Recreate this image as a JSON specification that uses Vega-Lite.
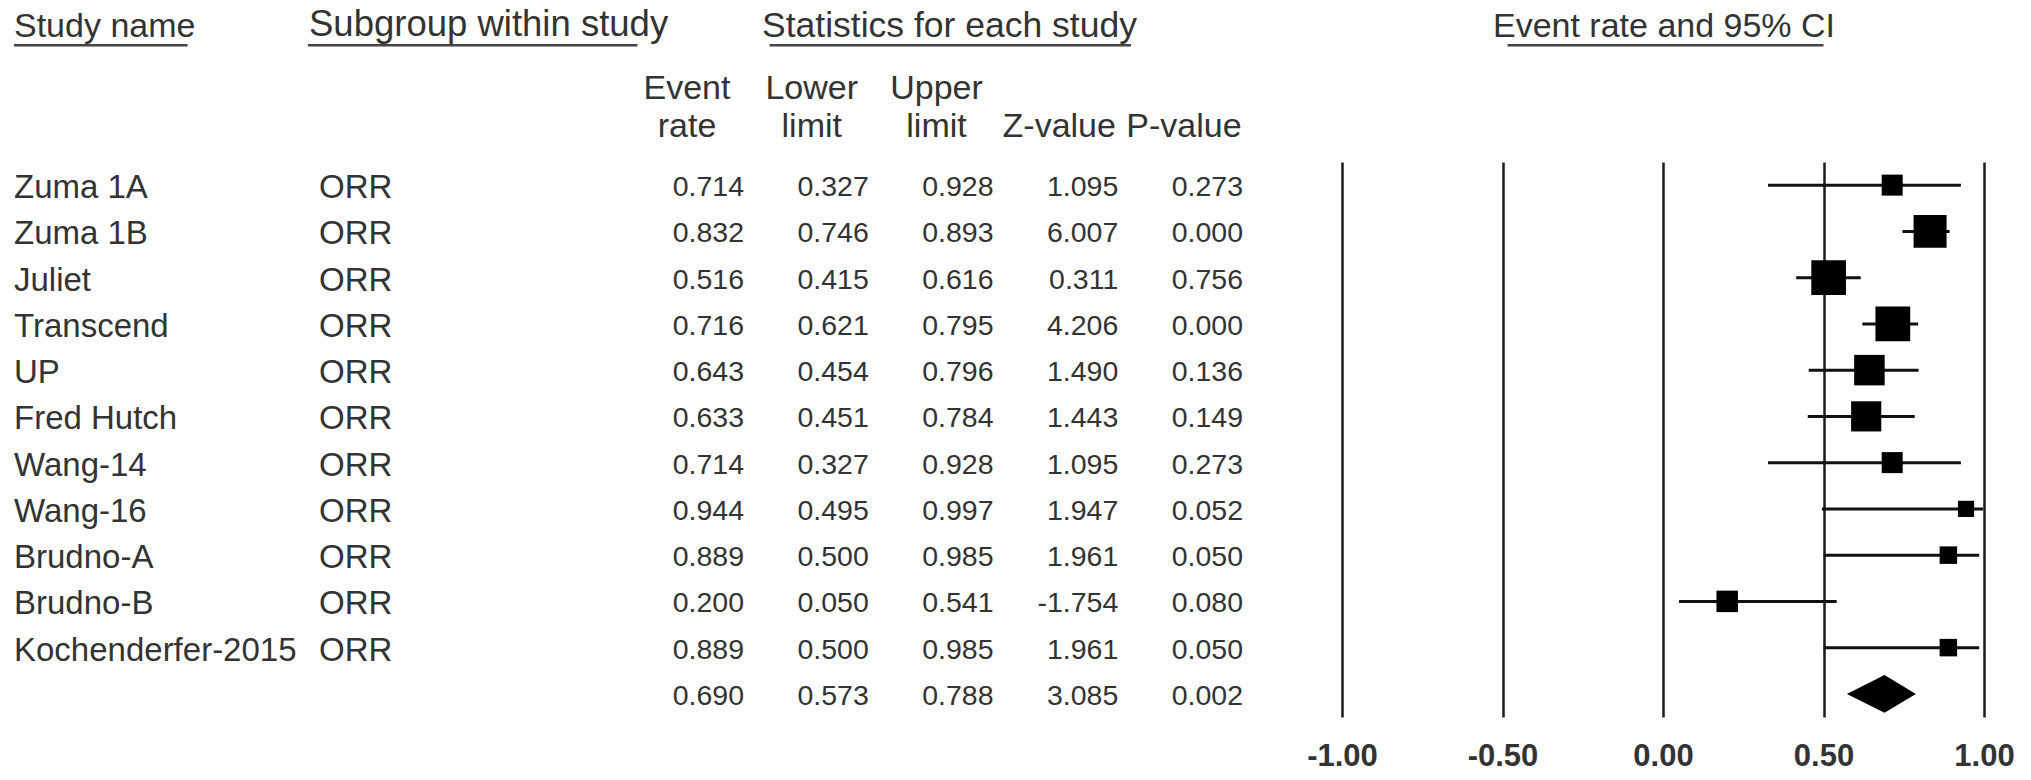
{
  "$schema": "https://vega.github.io/schema/vega-lite/v6.json",
  "width": 2031,
  "height": 555,
  "autosize": {"type": "none"},
  "padding": {"top": 162, "bottom": 63, "left": 0, "right": 0},
  "background": "white",
  "config": {
    "view": {"stroke": null},
    "locale": {"number": {"decimal": ".", "thousands": ",", "grouping": [3], "currency": ["$", ""], "minus": "-"}}
  },
  "datasets": {
    "studies": [
      {"study": "Zuma 1A", "name": "Zuma 1A", "subgroup": "ORR", "event": 0.714, "lower": 0.327, "upper": 0.928, "z": 1.095, "p": 0.273, "weight": 5.84, "kind": "study"},
      {"study": "Zuma 1B", "name": "Zuma 1B", "subgroup": "ORR", "event": 0.832, "lower": 0.746, "upper": 0.893, "z": 6.007, "p": 0.000, "weight": 14.41, "kind": "study"},
      {"study": "Juliet", "name": "Juliet", "subgroup": "ORR", "event": 0.516, "lower": 0.415, "upper": 0.616, "z": 0.311, "p": 0.756, "weight": 15.88, "kind": "study"},
      {"study": "Transcend", "name": "Transcend", "subgroup": "ORR", "event": 0.716, "lower": 0.621, "upper": 0.795, "z": 4.206, "p": 0.000, "weight": 16.01, "kind": "study"},
      {"study": "UP", "name": "UP", "subgroup": "ORR", "event": 0.643, "lower": 0.454, "upper": 0.796, "z": 1.490, "p": 0.136, "weight": 12.31, "kind": "study"},
      {"study": "Fred Hutch", "name": "Fred Hutch", "subgroup": "ORR", "event": 0.633, "lower": 0.451, "upper": 0.784, "z": 1.443, "p": 0.149, "weight": 12.04, "kind": "study"},
      {"study": "Wang-14", "name": "Wang-14", "subgroup": "ORR", "event": 0.714, "lower": 0.327, "upper": 0.928, "z": 1.095, "p": 0.273, "weight": 5.84, "kind": "study"},
      {"study": "Wang-16", "name": "Wang-16", "subgroup": "ORR", "event": 0.944, "lower": 0.495, "upper": 0.997, "z": 1.947, "p": 0.052, "weight": 3.47, "kind": "study"},
      {"study": "Brudno-A", "name": "Brudno-A", "subgroup": "ORR", "event": 0.889, "lower": 0.500, "upper": 0.985, "z": 1.961, "p": 0.050, "weight": 4.05, "kind": "study"},
      {"study": "Brudno-B", "name": "Brudno-B", "subgroup": "ORR", "event": 0.200, "lower": 0.050, "upper": 0.541, "z": -1.754, "p": 0.080, "weight": 6.11, "kind": "study"},
      {"study": "Kochenderfer-2015", "name": "Kochenderfer-2015", "subgroup": "ORR", "event": 0.889, "lower": 0.500, "upper": 0.985, "z": 1.961, "p": 0.050, "weight": 4.05, "kind": "study"},
      {"study": "Summary", "name": "", "subgroup": "", "event": 0.690, "lower": 0.573, "upper": 0.788, "z": 3.085, "p": 0.002, "weight": null, "kind": "summary"}
    ]
  },
  "layer": [
    {
      "layer": [
        {
          "data": {"name": "studies"},
          "transform": [{"fold": ["name", "subgroup"], "as": ["col", "val"]}],
          "mark": {"type": "text", "align": "left", "baseline": "middle", "dy": 3, "font": "Liberation Sans", "fontSize": 33, "color": "#333"},
          "encoding": {
            "x": {"field": "col", "type": "nominal", "scale": {"type": "point", "domain": ["name", "subgroup"], "range": [14, 319], "padding": 0}, "axis": null},
            "y": {"field": "study", "type": "nominal", "sort": null, "scale": {"type": "band", "paddingInner": 0, "paddingOuter": 0}, "axis": null},
            "text": {"field": "val", "type": "nominal"}
          }
        },
        {
          "layer": [
            {
              "data": {"values": [{"h": "Study name", "col": "name", "lvl": "top"}]},
              "mark": {"type": "text", "align": "left", "baseline": "bottom", "font": "Liberation Sans", "fontSize": 34, "color": "#333"},
              "encoding": {
                "x": {"field": "col", "type": "nominal"},
                "y": {"field": "lvl", "type": "nominal", "scale": {"type": "point", "domain": ["top", "sub"], "range": [-118.3, -18.3], "padding": 0}, "axis": null},
                "text": {"field": "h", "type": "nominal"}
              }
            },
            {
              "data": {"values": [{"h": "Subgroup within study", "col": "subgroup", "lvl": "top"}]},
              "mark": {"type": "text", "align": "left", "baseline": "bottom", "dx": -10, "font": "Liberation Sans", "fontSize": 36.5, "color": "#333"},
              "encoding": {
                "x": {"field": "col", "type": "nominal"},
                "y": {"field": "lvl", "type": "nominal"},
                "text": {"field": "h", "type": "nominal"}
              }
            },
            {
              "data": {"values": [{"col": "name", "lvl": "top"}]},
              "mark": {"type": "rule", "strokeWidth": 2.5, "color": "#444", "yOffset": 1.6, "x2Offset": 173.5},
              "encoding": {
                "x": {"field": "col", "type": "nominal"},
                "x2": {"field": "col"},
                "y": {"field": "lvl", "type": "nominal"}
              }
            },
            {
              "data": {"values": [{"col": "subgroup", "lvl": "top"}]},
              "mark": {"type": "rule", "strokeWidth": 2.5, "color": "#444", "yOffset": 1.6, "xOffset": -11, "x2Offset": 318.5},
              "encoding": {
                "x": {"field": "col", "type": "nominal"},
                "x2": {"field": "col"},
                "y": {"field": "lvl", "type": "nominal"}
              }
            }
          ]
        }
      ],
      "resolve": {"scale": {"y": "independent"}}
    },
    {
      "layer": [
        {
          "data": {"name": "studies"},
          "transform": [{"fold": ["event", "lower", "upper", "z", "p"], "as": ["col", "val"]}],
          "mark": {"type": "text", "align": "right", "baseline": "middle", "dy": 2, "font": "Liberation Sans", "fontSize": 28.5, "color": "#333"},
          "encoding": {
            "x": {"field": "col", "type": "nominal", "scale": {"type": "point", "domain": ["event", "lower", "upper", "z", "p"], "range": [744, 1243], "padding": 0}, "axis": null},
            "y": {"field": "study", "type": "nominal", "sort": null, "scale": {"type": "band", "paddingInner": 0, "paddingOuter": 0}, "axis": null},
            "text": {"field": "val", "type": "quantitative", "format": ".3f"}
          }
        },
        {
          "layer": [
            {
              "data": {"values": [
                {"h": "Event\nrate", "col": "event", "lvl": "sub"},
                {"h": "Lower\nlimit", "col": "lower", "lvl": "sub"},
                {"h": "Upper\nlimit", "col": "upper", "lvl": "sub"}
              ]},
              "mark": {"type": "text", "align": "center", "baseline": "bottom", "lineBreak": "\n", "lineHeight": 37.5, "dx": -57, "dy": -37.5, "font": "Liberation Sans", "fontSize": 34, "color": "#333"},
              "encoding": {
                "x": {"field": "col", "type": "nominal"},
                "y": {"field": "lvl", "type": "nominal", "scale": {"type": "point", "domain": ["top", "sub"], "range": [-118.3, -18.3], "padding": 0}, "axis": null},
                "text": {"field": "h", "type": "nominal"}
              }
            },
            {
              "data": {"values": [
                {"h": "Z-value", "col": "z", "lvl": "sub"},
                {"h": "P-value", "col": "p", "lvl": "sub"}
              ]},
              "mark": {"type": "text", "align": "center", "baseline": "bottom", "dx": -59, "font": "Liberation Sans", "fontSize": 34, "color": "#333"},
              "encoding": {
                "x": {"field": "col", "type": "nominal"},
                "y": {"field": "lvl", "type": "nominal"},
                "text": {"field": "h", "type": "nominal"}
              }
            },
            {
              "data": {"values": [{"h": "Statistics for each study", "col": "upper", "lvl": "top"}]},
              "mark": {"type": "text", "align": "center", "baseline": "bottom", "dx": -44, "font": "Liberation Sans", "fontSize": 35.5, "color": "#333"},
              "encoding": {
                "x": {"field": "col", "type": "nominal"},
                "y": {"field": "lvl", "type": "nominal"},
                "text": {"field": "h", "type": "nominal"}
              }
            },
            {
              "data": {"values": [{"col": "upper", "lvl": "top"}]},
              "mark": {"type": "rule", "strokeWidth": 2.5, "color": "#444", "yOffset": 1.6, "xOffset": -224, "x2Offset": 137.5},
              "encoding": {
                "x": {"field": "col", "type": "nominal"},
                "x2": {"field": "col"},
                "y": {"field": "lvl", "type": "nominal"}
              }
            }
          ]
        }
      ],
      "resolve": {"scale": {"y": "independent"}}
    },
    {
      "layer": [
        {
          "layer": [
            {
              "data": {"name": "studies"},
              "mark": {"type": "rule", "strokeWidth": 3, "color": "#111"},
              "encoding": {
                "x": {
                  "field": "lower", "type": "quantitative",
                  "scale": {"domain": [-1, 1], "range": [1342, 1984], "nice": false, "zero": false},
                  "axis": {
                    "orient": "bottom", "values": [-1, -0.5, 0, 0.5, 1], "format": ".2f", "title": null,
                    "grid": true, "gridColor": "#1a1a1a", "gridWidth": 2.5, "gridOpacity": 1,
                    "domain": false, "ticks": false, "labelPadding": 24, "labelFont": "Liberation Sans",
                    "labelFontSize": 31, "labelFontWeight": "bold", "labelColor": "#333",
                    "labelFlush": false, "labelOverlap": false, "labelBound": false
                  }
                },
                "x2": {"field": "upper"},
                "y": {"field": "study", "type": "nominal", "sort": null, "scale": {"type": "band", "paddingInner": 0, "paddingOuter": 0}, "axis": null},
                "opacity": {"condition": {"test": "datum.kind === 'summary'", "value": 0}, "value": 1}
              }
            },
            {
              "data": {"name": "studies"},
              "transform": [{"filter": "datum.kind === 'study'"}],
              "mark": {"type": "point", "shape": "square", "filled": true, "color": "#000", "opacity": 1, "strokeWidth": 0},
              "encoding": {
                "x": {"field": "event", "type": "quantitative"},
                "y": {"field": "study", "type": "nominal", "sort": null},
                "size": {"field": "weight", "type": "quantitative", "scale": {"type": "linear", "domain": [0, 100], "range": [0, 7557], "zero": true}, "legend": null}
              }
            },
            {
              "data": {"name": "studies"},
              "transform": [{"filter": "datum.kind === 'summary'"}],
              "mark": {"type": "point", "shape": "M-1,0L0,-0.505L0.835,0L0,0.505Z", "size": 5655, "filled": true, "color": "#000", "opacity": 1, "strokeWidth": 0},
              "encoding": {
                "x": {"field": "event", "type": "quantitative"},
                "y": {"field": "study", "type": "nominal", "sort": null}
              }
            }
          ]
        },
        {
          "layer": [
            {
              "data": {"values": [{"h": "Event rate and 95% CI", "lvl": "top"}]},
              "mark": {"type": "text", "align": "center", "baseline": "bottom", "dx": 1, "font": "Liberation Sans", "fontSize": 34, "color": "#333"},
              "encoding": {
                "x": {"datum": 0, "type": "quantitative"},
                "y": {"field": "lvl", "type": "nominal", "scale": {"type": "point", "domain": ["top", "sub"], "range": [-118.3, -18.3], "padding": 0}, "axis": null},
                "text": {"field": "h", "type": "nominal"}
              }
            },
            {
              "data": {"values": [{"lvl": "top"}]},
              "mark": {"type": "rule", "strokeWidth": 2.5, "color": "#444", "yOffset": 1.6, "xOffset": 5},
              "encoding": {
                "x": {"datum": -0.5, "type": "quantitative"},
                "x2": {"datum": 0.5},
                "y": {"field": "lvl", "type": "nominal"}
              }
            }
          ]
        }
      ],
      "resolve": {"scale": {"y": "independent"}}
    }
  ],
  "resolve": {"scale": {"x": "independent", "y": "independent"}, "axis": {"x": "independent", "y": "independent"}}
}
